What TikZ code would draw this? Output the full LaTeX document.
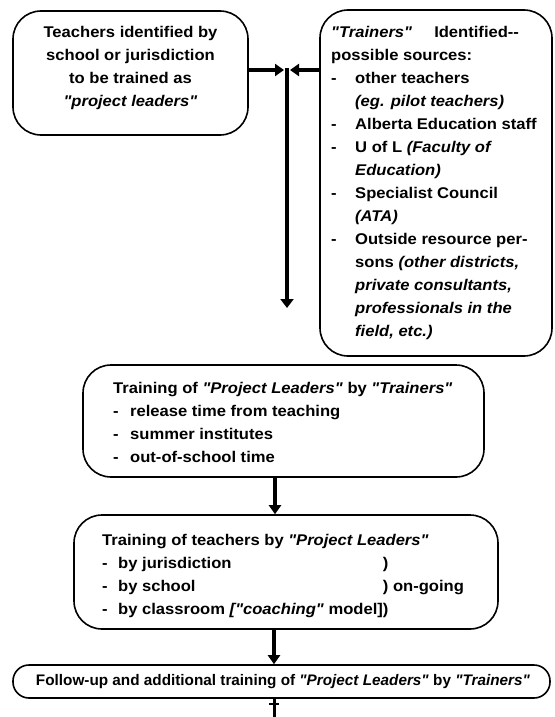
\documentclass[tikz,border=0pt]{standalone}
\usepackage{fontspec}
\setmainfont{Liberation Sans}[Ligatures=TeXOff]
\newfontfamily\boxfont{Liberation Sans}[Ligatures=TeXOff, FakeStretch=1.07]
\newfontfamily\pillfont{Liberation Sans}[Ligatures=TeXOff]
\usetikzlibrary{arrows.meta}
\begin{document}
\begin{tikzpicture}[x=1pt,y=-1pt,
  box/.style={draw=black, line width=1.6pt, rounded corners=28pt, inner sep=0pt},
  pill/.style={draw=black, line width=1.6pt, rounded corners=16pt, inner sep=0pt},
  txt/.style={inner sep=0pt, font=\boxfont\bfseries\fontsize{15.5pt}{23pt}\selectfont},
  ptxt/.style={inner sep=0pt, font=\pillfont\bfseries\fontsize{15.3pt}{23pt}\selectfont},
  arr/.style={line width=3.2pt, -{Triangle[length=9pt,width=12pt]}},
  trunk/.style={line width=4pt}]
\useasboundingbox (0,0) rectangle (554,717);

% boxes
\node[box, minimum width=235pt, minimum height=124pt] (box1) at (130.5,73) {};
\node[box, minimum width=232pt, minimum height=346pt] (box2) at (436,183) {};
\node[box, minimum width=401pt, minimum height=112pt] (box3) at (283.5,421) {};
\node[box, minimum width=424pt, minimum height=114pt] (box4) at (286,572) {};
\node[pill, minimum width=537pt, minimum height=33pt] (box5) at (281.5,681.5) {};

% texts
\node[txt, align=center, anchor=north] (t1) at (130.5,26) {Teachers identified by\\school or jurisdiction\\to be trained as\\\textit{"project leaders"}};

\node[txt, align=left, anchor=north west] (t2) at (331,26) {%
\textit{"Trainers"}\hspace{22pt}Identified--\\
possible sources:\\
\makebox[24pt][l]{-}other teachers\\
\hspace*{24pt}\textit{(eg. pilot teachers)}\\
\makebox[24pt][l]{-}Alberta Education staff\\
\makebox[24pt][l]{-}U of L \textit{(Faculty of}\\
\hspace*{24pt}\textit{Education)}\\
\makebox[24pt][l]{-}Specialist Council\\
\hspace*{24pt}\textit{(ATA)}\\
\makebox[24pt][l]{-}Outside resource per-\\
\hspace*{24pt}sons \textit{(other districts,}\\
\hspace*{24pt}\textit{private consultants,}\\
\hspace*{24pt}\textit{professionals in the}\\
\hspace*{24pt}\textit{field, etc.)}};

\node[txt, align=left, anchor=north west] (t3) at (113,382) {%
Training of \textit{"Project Leaders"} by \textit{"Trainers"}\\
\makebox[17pt][l]{-}release time from teaching\\
\makebox[17pt][l]{-}summer institutes\\
\makebox[17pt][l]{-}out-of-school time};

\node[txt, align=left, anchor=north west] (t4) at (102,534) {%
Training of teachers by \textit{"Project Leaders"}\\
\makebox[16pt][l]{-}\rlap{by jurisdiction}\hphantom{by classroom \textit{["coaching"} model]})\\
\makebox[16pt][l]{-}\rlap{by school}\hphantom{by classroom \textit{["coaching"} model]}) on-going\\
\makebox[16pt][l]{-}by classroom \textit{["coaching"} model])};

\node[ptxt, anchor=center] (t5) at (283,681.5) {Follow-up and additional training of \textit{"Project Leaders"} by \textit{"Trainers"}};

% connectors
\coordinate (jtop) at (287,68);
\coordinate (jbot) at (287,308);
\coordinate (jl) at (284,70);
\coordinate (jr) at (290,70);
\draw[trunk, -{Triangle[length=9pt,width=13pt]}] (jtop) -- (jbot);
\draw[arr] (box1.east |- jl) -- (jl);
\draw[arr] (box2.west |- jr) -- (jr);
\draw[arr] (box3.south -| 275,0) -- (box4.north -| 275,0);
\draw[arr] (box4.south -| 274,0) -- (box5.north -| 274,0);
\coordinate (tail) at (274,717);
\draw[line width=3pt] (box5.south -| tail) -- (tail);
\draw[line width=2pt] (269,704) -- (279,704);
\end{tikzpicture}
\end{document}
